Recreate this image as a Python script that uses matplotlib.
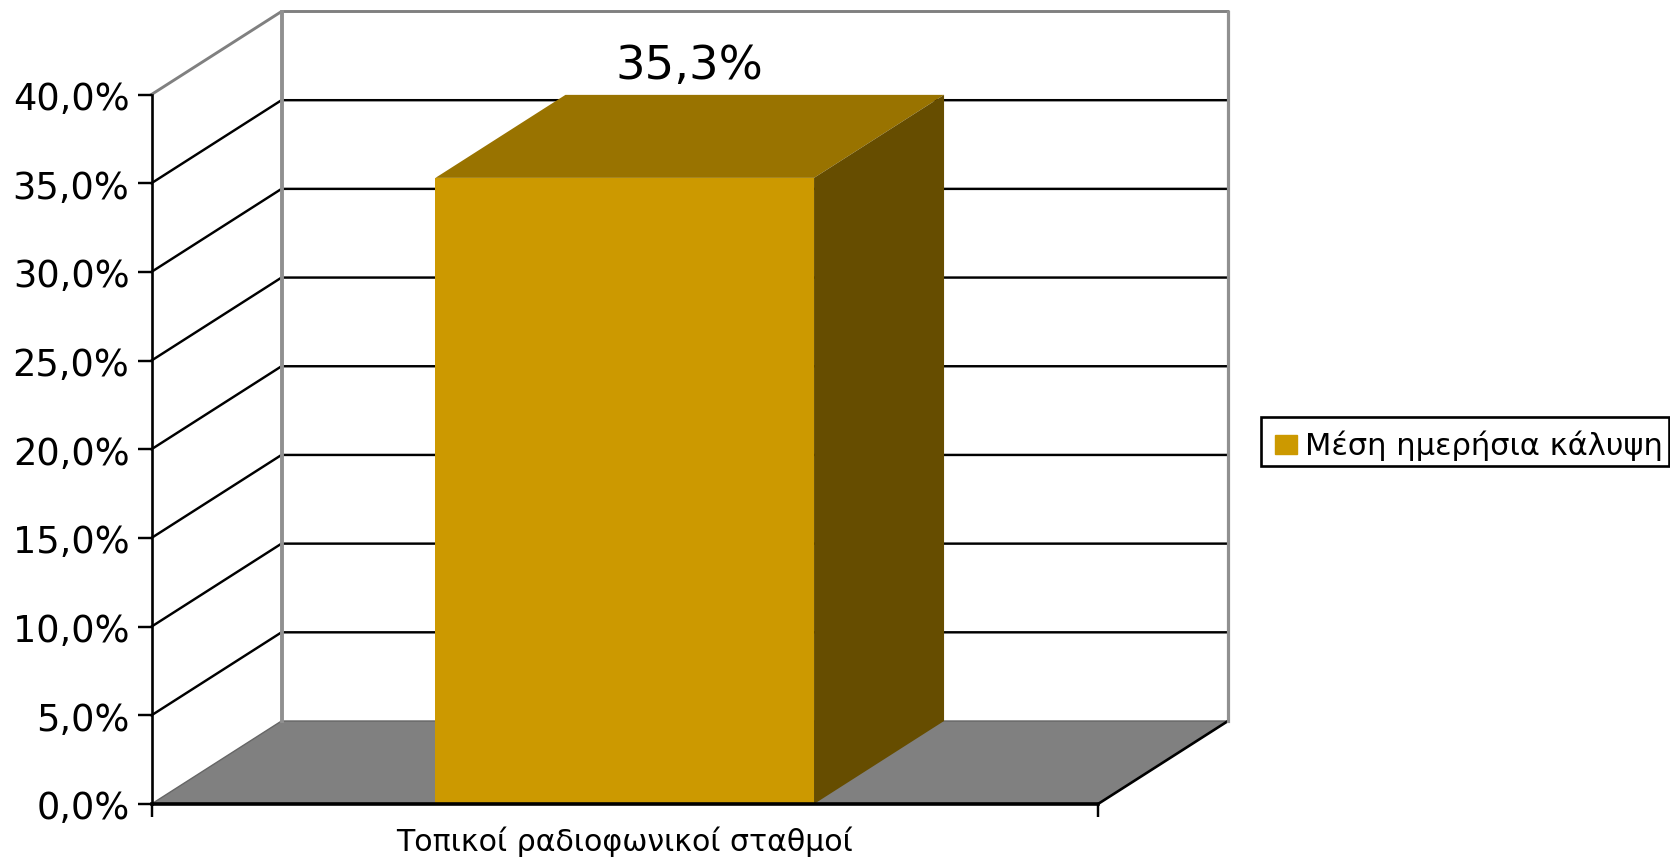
import numpy as np
import matplotlib
matplotlib.use("Agg")
import matplotlib.pyplot as plt
from matplotlib.patches import Polygon, Patch, Rectangle
from matplotlib.transforms import ScaledTranslation

categories = ["Τοπικοί ραδιοφωνικοί σταθμοί"]
coverage = [35.3]
value_labels = ["35,3%"]
series_name = "Μέση ημερήσια κάλυψη"
y_ticks = [0, 5, 10, 15, 20, 25, 30, 35, 40]
y_tick_labels = ["0,0%", "5,0%", "10,0%", "15,0%", "20,0%", "25,0%", "30,0%", "35,0%", "40,0%"]

W, H = 1670, 860
fig = plt.figure(figsize=(W / 100, H / 100), dpi=100)
# axes box = front plane of the 3d chart
ax = fig.add_axes([151.5 / W, 1 - 804 / H, 946.5 / W, 709.5 / H])
ax.set_xlim(0, 1)
ax.set_ylim(0, 40)
ax.patch.set_visible(False)

# depth of the fake 3d, in data units
dx = 130 / 946.5
dy = 83 / 709.5 * 40

# floor
ax.add_patch(Polygon([(0, 0), (1, 0), (1 + dx, dy), (dx, dy)], closed=True, fc="#808080",
                     ec="none", clip_on=False, zorder=1))
ax.plot([0, dx, 1 + dx], [0, dy, dy], color="#666666", lw=1.0, clip_on=False, zorder=1.1)
ax.plot([1, 1 + dx], [0, dy], color="black", lw=1.9, clip_on=False, zorder=1.2)

# walls and grid
for v in y_ticks[1:-1]:
    ax.plot([0, dx, 1 + dx], [v, v + dy, v + dy], color="black", lw=1.75, clip_on=False, zorder=1.2)
top = y_ticks[-1]
ax.plot([0, dx, 1 + dx], [top, top + dy, top + dy], color="#808080", lw=2.1, clip_on=False, zorder=1.3)
ax.plot([dx, dx], [dy, top + dy], color="#909090", lw=2.8, clip_on=False, zorder=1.3)
ax.plot([1 + dx, 1 + dx], [dy, top + dy], color="#909090", lw=2.3, clip_on=False, zorder=1.3)

# bar with top and side faces
pos = [0.5]
width = 0.4
left = pos[0] - width / 2
right = pos[0] + width / 2
v = coverage[0]
ax.bar(pos, coverage, width, color="#CC9900", zorder=2)
ax.add_patch(Polygon([(left, v), (right, v), (right + dx, v + dy), (left + dx, v + dy)], closed=True,
                     fc="#997300", ec="none", clip_on=False, zorder=2))
ax.add_patch(Polygon([(right, 0), (right + dx, dy), (right + dx, v + dy), (right, v)], closed=True,
                     fc="#664D00", ec="none", clip_on=False, zorder=2))
ax.annotate(value_labels[0], xy=(pos[0] + dx / 2, v + dy), xytext=(0, 20.5), textcoords="offset points",
            ha="center", va="center", fontsize=33.5, color="black", annotation_clip=False)

# axes
for s in ["top", "right"]:
    ax.spines[s].set_visible(False)
ax.spines["left"].set_linewidth(1.9)
ax.spines["bottom"].set_linewidth(2.6)
ax.set_yticks(y_ticks)
ax.set_yticklabels(y_tick_labels, fontsize=26.5)
ax.tick_params(axis="y", length=10.4, width=1.75, pad=5.5)
shift = ScaledTranslation(0, -0.7 / 72, fig.dpi_scale_trans)
for lab in ax.get_yticklabels():
    lab.set_transform(lab.get_transform() + shift)
ax.set_xticks([0, 1])
ax.set_xticklabels(["", ""])
ax.tick_params(axis="x", length=9.5, width=1.75)
ax.set_xticks(pos, minor=True)
ax.set_xticklabels(categories, minor=True, fontsize=21.6)
ax.tick_params(axis="x", which="minor", length=0, pad=16)

# legend box drawn apart so the entry can sit a little low, as in the original
fig.add_artist(Rectangle((1260.5 / W, 1 - 466 / H), 408 / W, 49 / H, transform=fig.transFigure,
                         fc="white", ec="black", lw=1.9))
leg = fig.legend(handles=[Patch(color="#CC9900", label=series_name)], loc="center left",
                 bbox_to_anchor=(1266 / W, 1 - 446 / H), fontsize=22, frameon=False,
                 borderaxespad=0, borderpad=0.3,
                 handlelength=0.7, handleheight=0.58, handletextpad=0.28)

fig.savefig("out.png", dpi=100)
